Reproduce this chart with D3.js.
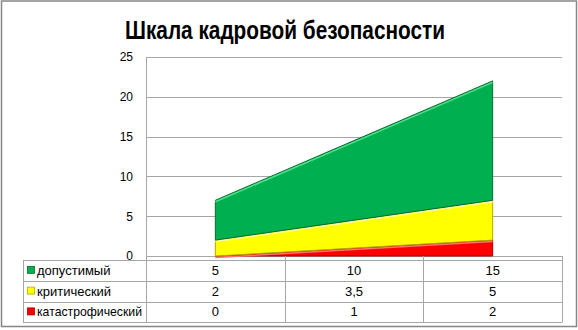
<!DOCTYPE html>
<html>
<head>
<meta charset="utf-8">
<script src="https://cdn.jsdelivr.net/npm/d3@7"></script>
<style>
  body { margin: 0; background: #fff; }
  svg text { font-family: "Liberation Sans", Arial, sans-serif; }
</style>
</head>
<body>
<svg id="chart" width="578" height="330"></svg>
<script>
// chart data
const title = "Шкала кадровой безопасности";
const categories = ["1", "2", "3"];
const seriesNames = ["допустимый", "критический", "катастрофический"];
const dopustimy = [5, 10, 15];
const kritichesky = [2, 3.5, 5];
const katastrof = [0, 1, 2];
const yTicks = [0, 5, 10, 15, 20, 25];

const colors = { "допустимый": "#00b050", "критический": "#ffff00", "катастрофический": "#ff0000" };
const edgeDark = { "допустимый": "#0a6b32", "критический": "#b8a800", "катастрофический": "#a80000" };
const edgeLight = { "допустимый": "#4fe08a", "критический": "#ffff9a", "катастрофический": "#ff7070" };

let rows = categories.map((c, i) => ({
    cat: c,
    "допустимый": dopustimy[i],
    "критический": kritichesky[i],
    "катастрофический": katastrof[i]
}));

const svg = d3.select("#chart");

// outer frame
svg.append("rect")
    .attr("x", 1.5).attr("y", 1).attr("width", 575).attr("height", 325.5)
    .attr("fill", "#fff").attr("stroke", "#868686").attr("stroke-width", 1.5);

// title
svg.append("text")
    .attr("x", 285).attr("y", 38.5)
    .attr("text-anchor", "middle")
    .attr("font-size", 25).attr("font-weight", "bold")
    .attr("textLength", 320).attr("lengthAdjust", "spacingAndGlyphs")
    .text(title);

// scales
let plotLeft = 146, plotRight = 562, plotTop = 57, plotBottom = 256;
let x = d3.scaleBand().domain(categories).range([plotLeft, plotRight]);
let y = d3.scaleLinear().domain([0, 25]).range([plotBottom, plotTop]);
let cx = c => x(c) + x.bandwidth() / 2;

// gridlines
svg.append("g").selectAll("line")
    .data(yTicks)
    .join("line")
    .attr("x1", plotLeft).attr("x2", plotRight)
    .attr("y1", d => Math.round(y(d)) + 0.5).attr("y2", d => Math.round(y(d)) + 0.5)
    .attr("stroke", "#a6a6a6");

// y axis labels
let yAxis = d3.axisLeft(y).tickValues(yTicks).tickSize(0).tickPadding(13);
svg.append("g")
    .attr("transform", `translate(${plotLeft},0)`)
    .call(yAxis)
    .call(g => g.select(".domain").attr("stroke", "#a6a6a6").attr("d", `M0.5,${plotTop}V${plotBottom}`))
    .call(g => g.selectAll("text").attr("font-size", 12).attr("fill", "#000")
        .attr("font-family", "Liberation Sans, Arial, sans-serif"));

// stacked areas (bottom: катастрофический)
let stackOrder = ["катастрофический", "критический", "допустимый"];
let stacked = d3.stack().keys(stackOrder)(rows);

let area = d3.area()
    .x(d => cx(d.data.cat))
    .y0(d => y(d[0]))
    .y1(d => y(d[1]));
let topLine = d3.line()
    .x(d => cx(d.data.cat))
    .y(d => y(d[1]));

let layers = svg.append("g").selectAll("g")
    .data(stacked)
    .join("g");

layers.append("path")
    .attr("d", area)
    .attr("fill", d => colors[d.key])
    .attr("stroke", d => edgeDark[d.key])
    .attr("stroke-width", 1);

layers.append("path")
    .attr("d", d => topLine(d))
    .attr("transform", "translate(0,1.5)")
    .attr("fill", "none")
    .attr("stroke", d => edgeLight[d.key])
    .attr("stroke-width", 1.5);

// data table
let tableLeft = 23;
let rowY = [260, 280.7, 301.5, 322.3];
let tbl = svg.append("g").attr("stroke", "#a6a6a6").attr("fill", "none");

// horizontal rules
tbl.selectAll("line.h")
    .data(rowY)
    .join("line")
    .attr("x1", tableLeft).attr("x2", plotRight)
    .attr("y1", d => Math.round(d) + 0.5).attr("y2", d => Math.round(d) + 0.5);

// vertical rules
let vx = [tableLeft, plotLeft].concat(categories.map(c => x(c) + x.bandwidth()));
tbl.selectAll("line.v")
    .data(vx)
    .join("line")
    .attr("x1", d => Math.round(d) + 0.5).attr("x2", d => Math.round(d) + 0.5)
    .attr("y1", (d, i) => i === 0 ? rowY[0] : plotBottom)
    .attr("y2", rowY[3]);

const fmt = v => d3.format("")(v).replace(".", ",");
const tableValues = { "допустимый": dopustimy, "критический": kritichesky, "катастрофический": katastrof };

seriesNames.forEach((name, r) => {
    let mid = (rowY[r] + rowY[r + 1]) / 2;
    svg.append("rect")
        .attr("x", 27.5).attr("y", mid - 4)
        .attr("width", 7).attr("height", 7)
        .attr("fill", colors[name]).attr("stroke", edgeDark[name]).attr("stroke-width", 0.8);
    let label = svg.append("text")
        .attr("x", 37).attr("y", mid + 4.5)
        .attr("font-size", 13)
        .text(name);
    // keep the long label inside its cell
    if (label.node().getComputedTextLength() > 105) {
        label.attr("textLength", 105).attr("lengthAdjust", "spacingAndGlyphs");
    }
    svg.append("g").selectAll("text")
        .data(tableValues[name])
        .join("text")
        .attr("x", (d, i) => cx(categories[i]))
        .attr("y", mid + 4.5)
        .attr("text-anchor", "middle")
        .attr("font-size", 13)
        .text(d => fmt(d));
});
</script>
</body>
</html>
